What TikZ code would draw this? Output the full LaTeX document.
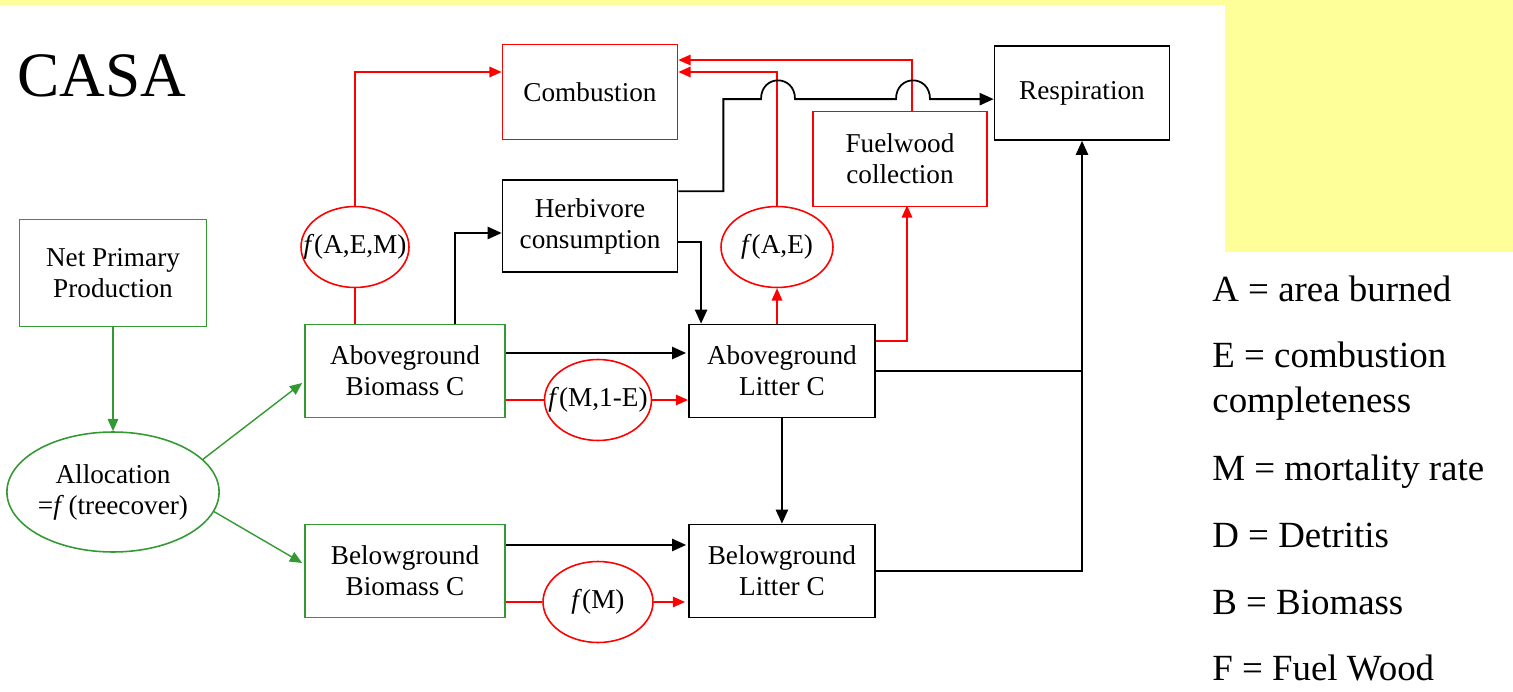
\documentclass[tikz,border=0pt]{standalone}
\usepackage{fontspec}
\setmainfont{Liberation Serif}
\usepackage{xcolor}
\usepackage{tikz}
\usetikzlibrary{arrows.meta, shapes.geometric, calc, positioning}

\definecolor{casared}{RGB}{255,0,0}
\definecolor{casagreen}{RGB}{51,153,51}
\definecolor{slideyellow}{RGB}{255,255,153}

\begin{document}
\begin{tikzpicture} [x = 0.02cm, y = -0.02cm, node distance = 4cm, on grid,
        every node/.style = {font = \fontsize{15.5}{17.6}\selectfont},
        pool/.style = {draw, line width = 1pt, align = center, minimum height = 1.86cm, inner sep = 2pt},
        fn/.style = {draw = casared, ellipse, line width = 0.9pt, minimum height = 1.62cm, inner sep = 0pt},
        legend/.style = {anchor = base west, inner sep = 0pt, font = \fontsize{21}{25.5}\selectfont},
        blkline/.style = {line width = 1pt, -{Triangle[length = 8pt, width = 7pt]}},
        redline/.style = {draw = casared, line width = 0.9pt, -{Triangle[length = 7pt, width = 6pt]}},
        grnline/.style = {draw = casagreen, line width = 0.8pt, -{Triangle[length = 7pt, width = 6pt]}}]

        \useasboundingbox (0,0) rectangle (1513,692);
        \fill [slideyellow] (0,0) rectangle (1513,5);
        \fill [slideyellow] (1225,0) rectangle (1513,252);

        \node (casa) [anchor = base west, inner sep = 0pt, font = \fontsize{36}{40}\selectfont] at (17,97) {CASA};

        \node (comb) [pool, draw = casared, minimum width = 3.5cm, minimum height = 1.9cm] at (590,92) {Combustion};
        \node (resp) [pool, minimum width = 3.5cm, minimum height = 1.88cm] at (1082,93) {Respiration};
        \node (npp) [pool, draw = casagreen, minimum width = 3.74cm, minimum height = 2.14cm] at (113,273) {Net Primary\\Production};
        \node (herb) [pool, minimum width = 3.5cm, minimum height = 1.84cm] at (590,226) {Herbivore\\consumption};
        \node (fuel) [pool, draw = casared, minimum width = 3.48cm, minimum height = 1.9cm] at (900,159) {Fuelwood\\collection};
        \node (abb) [pool, draw = casagreen, minimum width = 4cm] at (405,371) {Aboveground\\Biomass C};
        \node (abl) [pool, minimum width = 3.72cm, right = 7.54cm of abb] {Aboveground\\Litter C};
        \node (bbb) [pool, draw = casagreen, minimum width = 4cm, below = of abb] {Belowground\\Biomass C};
        \node (bbl) [pool, minimum width = 3.72cm, below = of abl] {Belowground\\Litter C};

        \node (fAEM) [fn, minimum width = 2.16cm] at (355,247) {\makebox[0pt]{\textit{f}(A,E,M)}};
        \node (fAE) [fn, minimum width = 2.24cm] at (777,247) {\makebox[0pt]{\textit{f}(A,E)}};
        \node (fM1E) [fn, minimum width = 2.14cm] at (598,400) {\makebox[0pt]{\textit{f}(M,1-E)}};
        \node (fM) [fn, minimum width = 2.2cm] at (598,602) {\makebox[0pt]{\textit{f}(M)}};
        \node (alloc) [ellipse, draw = casagreen, line width = 0.9pt, minimum width = 4.22cm, minimum height = 2.4cm,
            inner sep = 0pt, align = center] at (113,492) {Allocation\\=\textit{f}\,(treecover)};

        \node (legA) [legend] at (1212,301) {A = area burned};
        \node (legE) [legend] at (1212,367) {E = combustion};
        \node (legC) [legend] at (1212,412) {completeness};
        \node (legM) [legend] at (1212,480) {M = mortality rate};
        \node (legD) [legend] at (1212,547) {D = Detritis};
        \node (legB) [legend] at (1212,614) {B = Biomass};
        \node (legF) [legend] at (1212,680) {F = Fuel Wood};

        % allocation
        \draw [grnline] (npp) -- (alloc);
        \draw [grnline] (alloc.20) -- ($(abb.west)+(-2,12)$);
        \draw [grnline] (alloc.-11) -- ($(bbb.west)+(-2,-8)$);

        % fire and fuelwood
        \coordinate (fwtop) at ($(fuel.north)+(12,0)$);
        \draw [redline, -] (abb.north -| fAEM) -- (fAEM.south);
        \draw [redline] (fAEM.north) |- ($(comb.west)+(0,-20)$);
        \draw [redline] (abl.north -| fAE) -- (fAE.south);
        \draw [redline] (fAE.north) |- ($(comb.east)+(0,-20)$);
        \draw [redline] (fwtop) |- ($(comb.east)+(0,-32)$);
        \draw [redline] ($(abl.east)+(0,-30)$) -| ($(fuel.south)+(7,-2)$);
        \draw [redline, -] (abb.east |- fM1E) -- (fM1E.west);
        \draw [redline] (fM1E.east) -- (abl.west |- fM1E);
        \draw [redline, -] (bbb.east |- fM) -- (fM.west);
        \draw [redline] (fM.east) -- ($(bbl.west |- fM)+(-3,0)$);

        % carbon flows
        \coordinate (hbend) at ($(herb.north east)+(45,-80)$);
        \draw [blkline] ($(abb.north)+(50,0)$) |- ($(herb.west)+(0,7)$);
        \draw [blkline] ($(herb.east)+(0,16)$) -| ($(abl.north west)+(13,0)$);
        \draw [blkline] ($(herb.north east)+(0,12)$) -| (hbend)
            -- ($(fAE.north |- hbend)+(-16,0)$) .. controls +(0,-25) and +(0,-25) .. ($(fAE.north |- hbend)+(18,0)$)
            -- ($(fwtop |- hbend)+(-16,0)$) .. controls +(0,-25) and +(0,-25) .. ($(fwtop |- hbend)+(18,0)$)
            -- (resp.west |- hbend);
        \draw [blkline] ($(abb.east)+(0,-18)$) -- ($(abl.west)+(-2,-18)$);
        \draw [blkline] ($(bbb.east)+(0,-26)$) -- ($(bbl.west)+(-2,-26)$);
        \draw [blkline] (abl) -- (bbl);
        \draw [line width = 1pt] (abl.east) -- (abl.east -| resp.south);
        \draw [blkline] (bbl.east) -| (resp.south);
    \end{tikzpicture}
\end{document}
